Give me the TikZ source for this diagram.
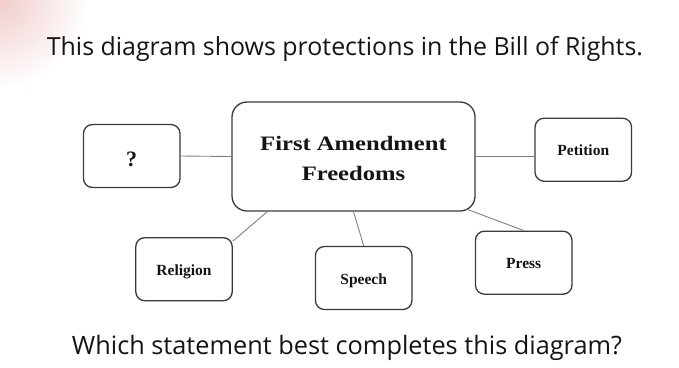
\documentclass[tikz,border=0pt]{standalone}
\usepackage{fontspec}
\usepackage{graphicx}
\newfontfamily\titlefont{Open Sans}
\newfontfamily\boxfont{Liberation Serif}
\newfontfamily\bigfont[FakeStretch=1.2]{Liberation Serif}
\definecolor{boxline}{HTML}{3A3A3A}
\definecolor{connline}{HTML}{808080}
\definecolor{txt}{HTML}{141414}
\definecolor{pinkish}{HTML}{F0C8C8}
\begin{document}
\begin{tikzpicture}[x=1pt,y=-1pt,
  fbox/.style={draw=boxline, line width=1.3pt, rounded corners=9pt, inner sep=0pt,
    minimum width=96.5pt, minimum height=63pt, text height=12pt, text depth=0pt,
    font=\boxfont\bfseries\fontsize{15.5}{18}\selectfont, text=txt},
  bigbox/.style={draw=boxline, line width=1.3pt, rounded corners=15pt, inner sep=0pt,
    minimum width=243pt, minimum height=109pt, align=center, text height=48.4pt, text depth=0pt,
    font=\bigfont\bfseries\fontsize{20.5}{30}\selectfont, text=txt},
  conn/.style={draw=connline, line width=0.9pt}]
\useasboundingbox (0,0) rectangle (679,367);
\begin{scope}
\clip (0,0) rectangle (679,367);
\shade[inner color=pinkish, outer color=white] (-5,-5) circle (95);
\end{scope}
\node[anchor=base west, inner sep=0pt, text=txt] (title) at (46.7,55)
  {\resizebox{596pt}{!}{\titlefont This diagram shows protections in the Bill of Rights.}};
\node[anchor=base west, inner sep=0pt, text=txt] (question) at (71.7,354.3)
  {\resizebox{550pt}{!}{\titlefont Which statement best completes this diagram?}};
\node[bigbox] (central) at (353.5,156.5) {First Amendment\\Freedoms};
\node[fbox, text height=21.4pt, font=\boxfont\bfseries\fontsize{22}{24}\selectfont] (q) at (131.7,156) {?};
\node[fbox] (petition) at (583.3,149.7) {Petition};
\node[fbox] (press) at (523.7,262.7) {Press};
\node[fbox] (religion) at (184,269.2) {Religion};
\node[fbox] (speech) at (363.7,278) {Speech};
\draw[conn] (central.west) -- (q.east);
\draw[conn] (central.east) -- (central.east -| petition.west);
\draw[conn] ([xshift=-9pt,yshift=2.5pt]central.south east) -- (press.north);
\draw[conn] ([xshift=36pt]central.south west) -- ([yshift=-4pt]religion.north east);
\draw[conn] (central.south) -- (speech.north);
\end{tikzpicture}
\end{document}
